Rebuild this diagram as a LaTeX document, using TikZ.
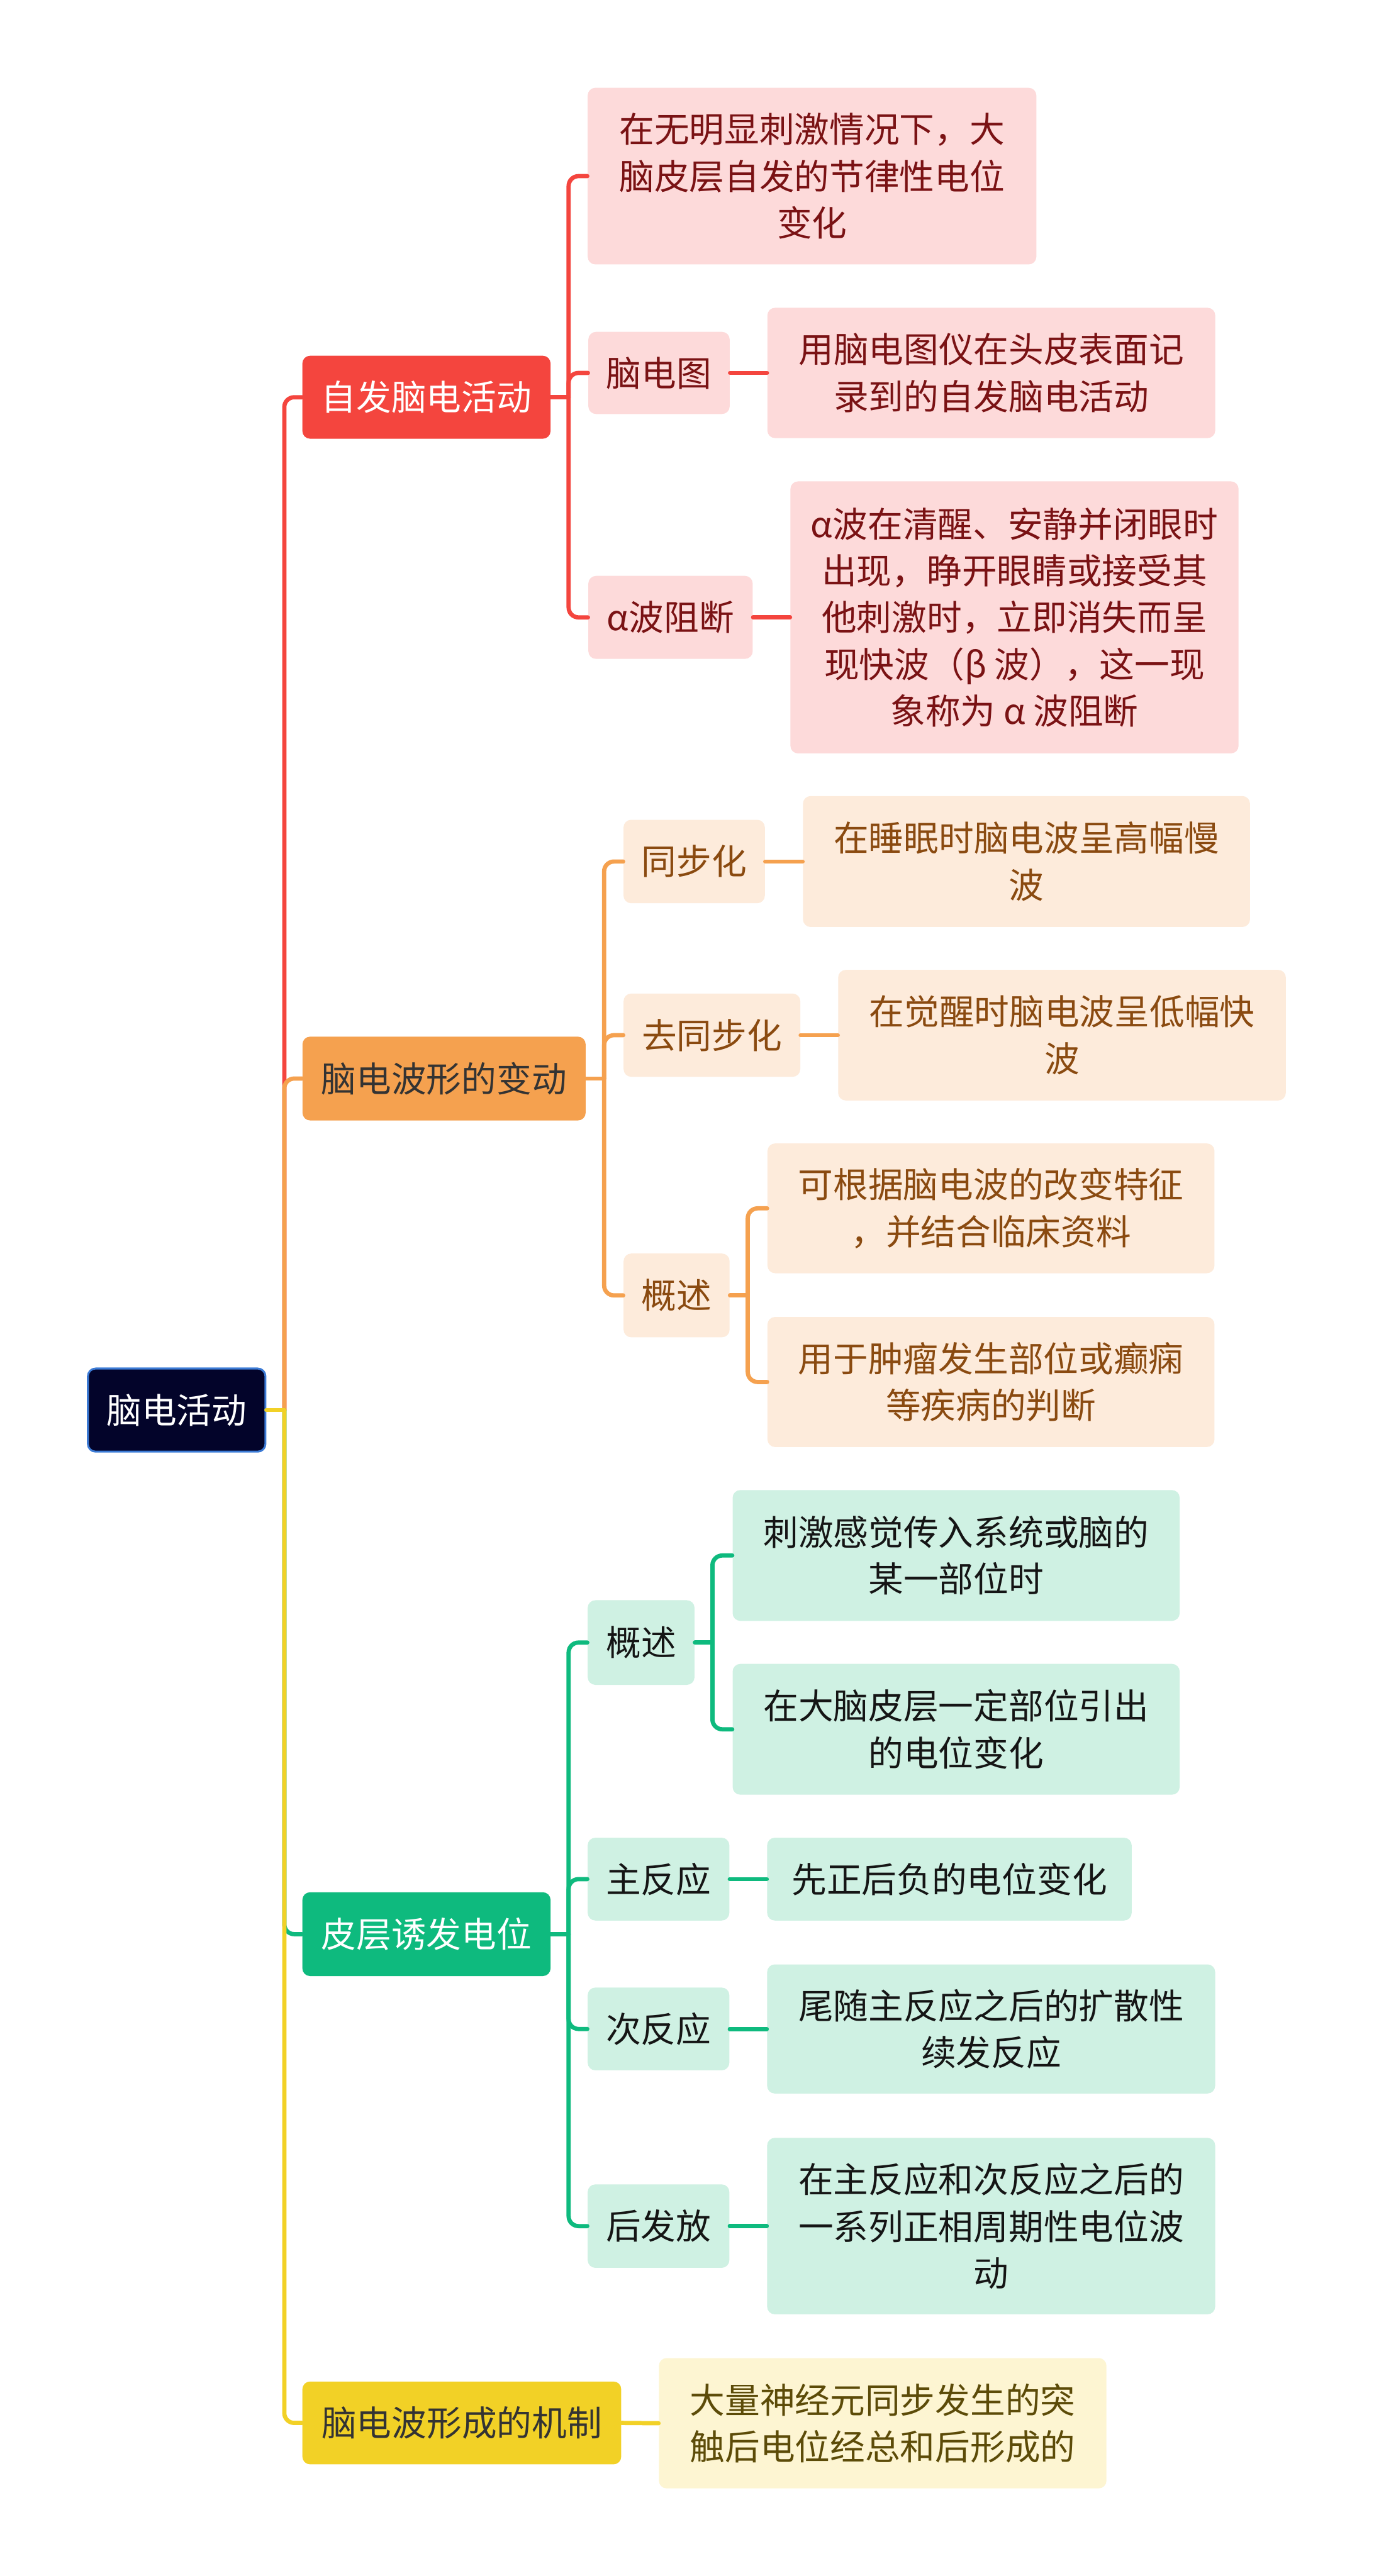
\documentclass[tikz,border=0pt]{standalone}
\usepackage{fontspec}
\setmainfont{Noto Sans CJK SC}
\definecolor{rootbg}{HTML}{03042A}
\definecolor{rootbd}{HTML}{3C7BD6}
\definecolor{redc}{HTML}{F4453E}
\definecolor{redlt}{HTML}{FDDADA}
\definecolor{redtx}{HTML}{7A1214}
\definecolor{orgc}{HTML}{F5A14F}
\definecolor{orglt}{HTML}{FDEBDB}
\definecolor{orgtx}{HTML}{8A4A10}
\definecolor{grnc}{HTML}{0EBA7E}
\definecolor{grnlt}{HTML}{CFF1E3}
\definecolor{grntx}{HTML}{151515}
\definecolor{ylwc}{HTML}{F2D126}
\definecolor{ylwlt}{HTML}{FDF5D2}
\definecolor{ylwtx}{HTML}{5C4B08}
\definecolor{darktx}{HTML}{333333}
\begin{document}
\begin{tikzpicture}[x=0.03cm,y=-0.03cm,line join=round,line cap=round]
	\tikzset{every node/.style={font=\fontsize{18.2}{24.3}\selectfont,align=center,inner sep=0pt,rounded corners=0.14cm,rectangle},
		box/.style 2 args={minimum width=#1*0.03cm,minimum height=#2*0.03cm},
		lnk/.style={line width=2.2pt,rounded corners=0.18cm},
		redln/.style={lnk,draw=redc}, orgln/.style={lnk,draw=orgc},
		grnln/.style={lnk,draw=grnc}, ylwln/.style={lnk,draw=ylwc},
		redbox/.style={fill=redlt,text=redtx}, orgbox/.style={fill=orglt,text=orgtx},
		grnbox/.style={fill=grnlt,text=grntx}, ylwbox/.style={fill=ylwlt,text=ylwtx}}
	\useasboundingbox[fill=white] (0,0) rectangle (836,1568);
	% root and main branches
	\node[box={108}{50.6},fill=rootbg,draw=rootbd,line width=1pt,text=white] (root) at (107.5,858.3) {脑电活动};
	\node[box={151}{50.5},fill=redc,text=white] (a1) at (259.5,241.8) {自发脑电活动};
	\node[box={172.3}{51},fill=orgc,text=darktx] (a2) at (270.2,656.5) {脑电波形的变动};
	\node[box={151}{51},fill=grnc,text=white] (a3) at (259.5,1177.3) {皮层诱发电位};
	\node[box={194}{50.4},fill=ylwc,text=darktx] (a4) at (281,1474.8) {脑电波形成的机制};
	% red branch
	\node[box={273}{107.5},redbox] (r1) at (494.1,107.2) {在无明显刺激情况下，大\\脑皮层自发的节律性电位\\变化};
	\node[box={86}{50},redbox] (r2) at (401,227) {脑电图};
	\node[box={272.5}{79.3},redbox] (r2a) at (603.2,227) {用脑电图仪在头皮表面记\\录到的自发脑电活动};
	\node[box={100}{50.5},redbox] (r3) at (408,375.8) {α波阻断};
	\node[box={272.7}{165.6},redbox] (r3a) at (617.3,375.8) {α波在清醒、安静并闭眼时\\出现，睁开眼睛或接受其\\他刺激时，立即消失而呈\\现快波（β 波），这一现\\象称为 α 波阻断};
	% orange branch
	\node[box={86}{50.8},orgbox] (o1) at (422.4,524.4) {同步化};
	\node[box={272}{79.7},orgbox] (o1a) at (624.6,524.4) {在睡眠时脑电波呈高幅慢\\波};
	\node[box={107.5}{50.7},orgbox] (o2) at (433.2,630.1) {去同步化};
	\node[box={272.4}{79.5},orgbox] (o2a) at (646.2,630.1) {在觉醒时脑电波呈低幅快\\波};
	\node[box={64.5}{51},orgbox] (o3) at (411.7,788.5) {概述};
	\node[box={272}{79},orgbox] (o3a) at (603,735.5) {可根据脑电波的改变特征\\，并结合临床资料};
	\node[box={272}{79.2},orgbox] (o3b) at (603,841.2) {用于肿瘤发生部位或癫痫\\等疾病的判断};
	% green branch
	\node[box={65}{51.5},grnbox] (g1) at (390.1,999.8) {概述};
	\node[box={272}{79.6},grnbox] (g1a) at (581.8,946.8) {刺激感觉传入系统或脑的\\某一部位时};
	\node[box={272}{79.6},grnbox] (g1b) at (581.8,1052.6) {在大脑皮层一定部位引出\\的电位变化};
	\node[box={86.2}{50.4},grnbox] (g2) at (400.7,1143.8) {主反应};
	\node[box={221.8}{50.4},grnbox] (g2a) at (577.7,1143.8) {先正后负的电位变化};
	\node[box={86.2}{50.4},grnbox] (g3) at (400.7,1235) {次反应};
	\node[box={272.6}{78.6},grnbox] (g3a) at (603.1,1235) {尾随主反应之后的扩散性\\续发反应};
	\node[box={86.2}{50.8},grnbox] (g4) at (400.7,1355) {后发放};
	\node[box={272.6}{107.4},grnbox] (g4a) at (603.1,1355) {在主反应和次反应之后的\\一系列正相周期性电位波\\动};
	% yellow branch
	\node[box={272.3}{79.3},ylwbox] (y1a) at (537.1,1475) {大量神经元同步发生的突\\触后电位经总和后形成的};
	% junctions
	\coordinate (t0) at (173,858.3);
	\coordinate (jr) at (346,241.8);
	\coordinate (jo) at (367.6,656.5);
	\coordinate (jo3) at (455,788.5);
	\coordinate (jg) at (346,1177.3);
	\coordinate (jg1) at (433.5,999.8);
	% connectors
	\draw[redln] (t0) |- (a1.west);
	\draw[redln] (a1.east) -- (jr);
	\foreach \n in {r1,r2,r3} \draw[redln] (jr) |- (\n.west);
	\foreach \p/\c in {r2/r2a,r3/r3a} \draw[redln] (\p.east) -- (\c.west);
	\draw[orgln] (t0) |- (a2.west);
	\draw[orgln] (a2.east) -- (jo);
	\foreach \n in {o1,o2,o3} \draw[orgln] (jo) |- (\n.west);
	\foreach \p/\c in {o1/o1a,o2/o2a} \draw[orgln] (\p.east) -- (\c.west);
	\draw[orgln] (o3.east) -- (jo3);
	\foreach \n in {o3a,o3b} \draw[orgln] (jo3) |- (\n.west);
	\draw[grnln] (t0) |- (a3.west);
	\draw[grnln] (a3.east) -- (jg);
	\foreach \n in {g1,g2,g3,g4} \draw[grnln] (jg) |- (\n.west);
	\foreach \p/\c in {g2/g2a,g3/g3a,g4/g4a} \draw[grnln] (\p.east) -- (\c.west);
	\draw[grnln] (g1.east) -- (jg1);
	\foreach \n in {g1a,g1b} \draw[grnln] (jg1) |- (\n.west);
	\draw[ylwln] (t0) |- (a4.west);
	\draw[ylwln] (root.east) -- (t0);
	\draw[ylwln] (a4.east) -- (y1a.west);
\end{tikzpicture}
\end{document}
